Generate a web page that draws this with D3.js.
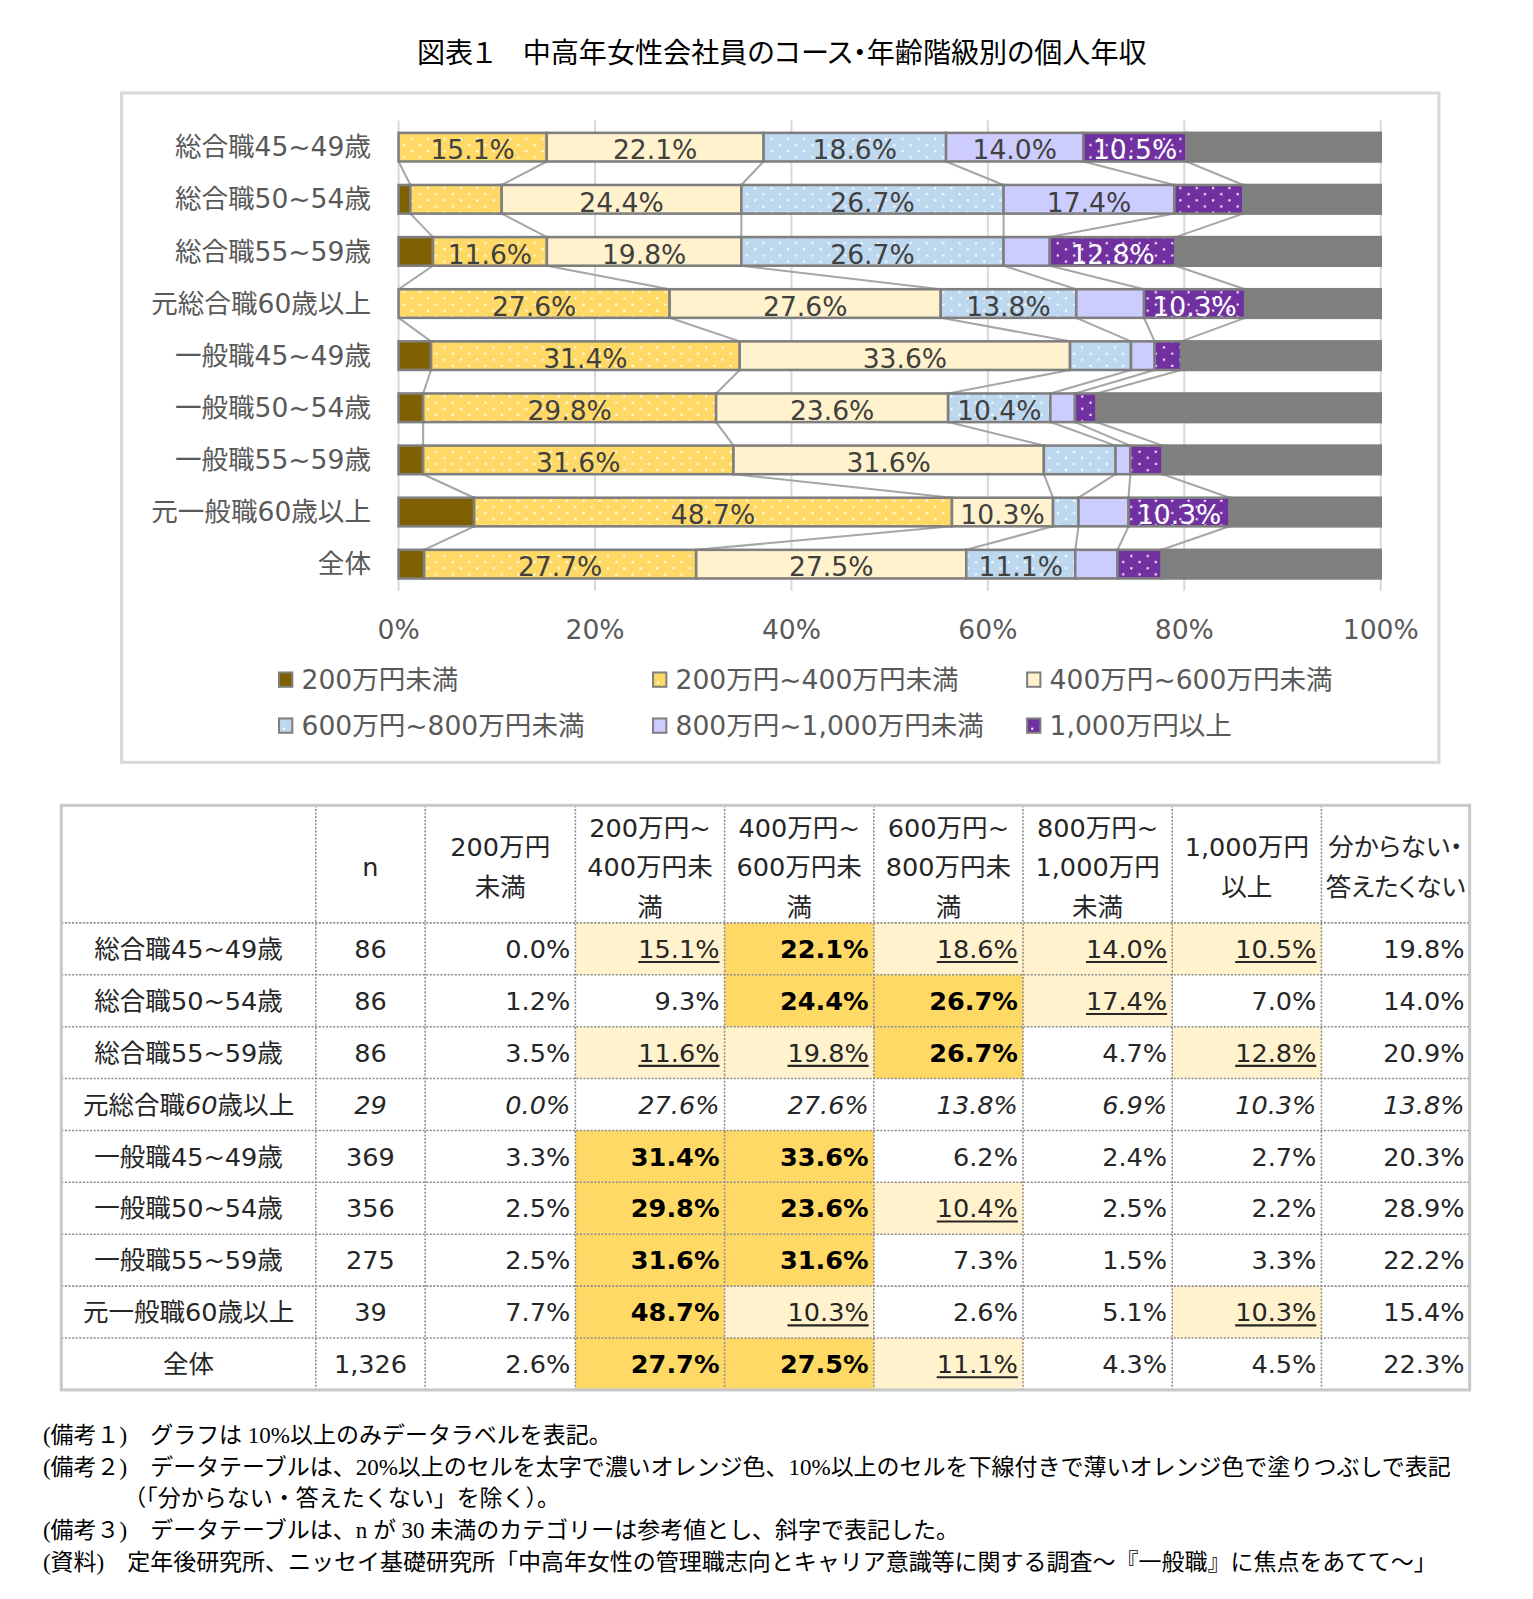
<!DOCTYPE html>
<html>
<head>
<meta charset="utf-8">
<script src="https://cdn.jsdelivr.net/npm/d3@7"></script>
<style>
  body { margin: 0; background: #fff; }
  svg { display: block; }
  .palt { font-feature-settings: "palt"; }
</style>
</head>
<body>
<svg id="chart" width="1533" height="1599"></svg>
<script>
// ---- data ----
const rows = ['総合職45~49歳', '総合職50~54歳', '総合職55~59歳', '元総合職60歳以上',
  '一般職45~49歳', '一般職50~54歳', '一般職55~59歳', '元一般職60歳以上', '全体'];
const nValues = [86, 86, 86, 29, 369, 356, 275, 39, 1326];
const under200 = [0.0, 1.2, 3.5, 0.0, 3.3, 2.5, 2.5, 7.7, 2.6];
const r200to400 = [15.1, 9.3, 11.6, 27.6, 31.4, 29.8, 31.6, 48.7, 27.7];
const r400to600 = [22.1, 24.4, 19.8, 27.6, 33.6, 23.6, 31.6, 10.3, 27.5];
const r600to800 = [18.6, 26.7, 26.7, 13.8, 6.2, 10.4, 7.3, 2.6, 11.1];
const r800to1000 = [14.0, 17.4, 4.7, 6.9, 2.4, 2.5, 1.5, 5.1, 4.3];
const over1000 = [10.5, 7.0, 12.8, 10.3, 2.7, 2.2, 3.3, 10.3, 4.5];
const unknown = [19.8, 14.0, 20.9, 13.8, 20.3, 28.9, 22.2, 15.4, 22.3];
const seriesNames = ['200万円未満', '200万円~400万円未満', '400万円~600万円未満',
  '600万円~800万円未満', '800万円~1,000万円未満', '1,000万円以上', '分からない・答えたくない'];
const tableHeads = [[''], ['n'], ['200万円', '未満'], ['200万円~', '400万円未', '満'],
  ['400万円~', '600万円未', '満'], ['600万円~', '800万円未', '満'],
  ['800万円~', '1,000万円', '未満'], ['1,000万円', '以上'], ['分からない・', '答えたくない']];
const xTicks = [0, 0.2, 0.4, 0.6, 0.8, 1];
const notes = [
  '(備考１)　グラフは 10%以上のみデータラベルを表記。',
  '(備考２)　データテーブルは、20%以上のセルを太字で濃いオレンジ色、10%以上のセルを下線付きで薄いオレンジ色で塗りつぶしで表記',
  '　　　　（「分からない・答えたくない」を除く）。',
  '(備考３)　データテーブルは、n が 30 未満のカテゴリーは参考値とし、斜字で表記した。',
  '(資料)　定年後研究所、ニッセイ基礎研究所「中高年女性の管理職志向とキャリア意識等に関する調査～『一般職』に焦点をあてて～」'
];

const allSeries = [under200, r200to400, r400to600, r600to800, r800to1000, over1000, unknown];
const colors = ['#7f6000', '#ffd966', '#fff2cc', '#bdd7ee', '#ccccff', '#7030a0', '#808080'];
const dotted = [false, true, false, true, false, true, false];

const font = "'DejaVu Sans','Noto Sans CJK JP',sans-serif";
const svg = d3.select('#chart');
// layout was measured on a 1500px wide copy of the picture
const root = svg.append('g').attr('transform', `scale(${1533 / 1500})`);

// ---- title ----
root.append('text')
  .attr('class', 'palt')
  .attr('x', 765).attr('y', 62)
  .attr('text-anchor', 'middle')
  .attr('font-family', "'Noto Sans CJK JP',sans-serif")
  .attr('font-size', 27.5)
  .attr('fill', '#000')
  .text('図表１　中高年女性会社員のコース・年齢階級別の個人年収');

// chart frame
root.append('rect')
  .attr('x', 119).attr('y', 91).attr('width', 1289).attr('height', 655)
  .attr('fill', 'none').attr('stroke', '#d9d9d9').attr('stroke-width', 3);

// patterns
const defs = svg.append('defs');
colors.forEach((c, k) => {
  if (!dotted[k]) return;
  const p = defs.append('pattern')
    .attr('id', 'pat' + k)
    .attr('patternUnits', 'userSpaceOnUse')
    .attr('width', 16).attr('height', 12);
  p.append('rect').attr('width', 16).attr('height', 12).attr('fill', c);
  p.append('rect').attr('x', 2).attr('y', 3).attr('width', 2).attr('height', 2).attr('fill', '#fff');
  p.append('rect').attr('x', 10).attr('y', 9).attr('width', 2).attr('height', 2).attr('fill', '#fff');
});
const fillOf = k => dotted[k] ? `url(#pat${k})` : colors[k];

// ---- stacked bars ----
const table = rows.map((r, i) => {
  const o = { row: r };
  allSeries.forEach((s, k) => { o['s' + k] = s[i]; });
  return o;
});
const keys = allSeries.map((s, k) => 's' + k);
const stacked = d3.stack().keys(keys).offset(d3.stackOffsetExpand)(table);

const x = d3.scaleLinear().domain([0, 1]).range([390, 1351]);
const y = d3.scalePoint().domain(rows).range([144, 552]);
const barH = 28;

// grid
root.append('g').selectAll('line')
  .data(xTicks).enter().append('line')
  .attr('x1', d => x(d)).attr('x2', d => x(d))
  .attr('y1', 118).attr('y2', 578)
  .attr('stroke', '#d9d9d9').attr('stroke-width', 2);

// series lines
const seriesLines = [];
for (let k = 0; k < 6; k++) {
  for (let i = 0; i < rows.length - 1; i++) {
    seriesLines.push({
      x1: x(stacked[k][i][1]), y1: y(rows[i]) + barH / 2,
      x2: x(stacked[k][i + 1][1]), y2: y(rows[i + 1]) - barH / 2
    });
  }
}
root.append('g').selectAll('line')
  .data(seriesLines).enter().append('line')
  .attr('x1', d => d.x1).attr('y1', d => d.y1)
  .attr('x2', d => d.x2).attr('y2', d => d.y2)
  .attr('stroke', '#a6a6a6').attr('stroke-width', 2);

const layers = root.append('g').selectAll('g')
  .data(stacked).enter().append('g')
  .attr('fill', (d, k) => fillOf(k));

layers.selectAll('rect')
  .data(d => d).enter().append('rect')
  .attr('x', d => x(d[0]))
  .attr('y', d => y(d.data.row) - barH / 2)
  .attr('width', d => x(d[1]) - x(d[0]))
  .attr('height', barH)
  .attr('stroke', '#7f7f7f').attr('stroke-width', 2.5);

// data labels (10% and over, not for the unknown series)
stacked.forEach((layer, k) => {
  if (k === 6) return;
  root.append('g').selectAll('text')
    .data(layer.filter(d => d.data['s' + k] >= 10)).enter().append('text')
    .attr('x', d => (x(d[0]) + x(d[1])) / 2)
    .attr('y', d => y(d.data.row) + 12)
    .attr('text-anchor', 'middle')
    .attr('font-family', font).attr('font-size', 26)
    .attr('fill', k === 5 ? '#fff' : '#404040')
    .text(d => d.data['s' + k].toFixed(1) + '%');
});

// category labels
root.append('g').selectAll('text')
  .data(rows).enter().append('text')
  .attr('x', 363).attr('y', d => y(d) + 9)
  .attr('text-anchor', 'end')
  .attr('font-family', font).attr('font-size', 26)
  .attr('fill', '#595959')
  .text(d => d);

// x axis labels
root.append('g').selectAll('text')
  .data(xTicks).enter().append('text')
  .attr('x', d => x(d)).attr('y', 625)
  .attr('text-anchor', 'middle')
  .attr('font-family', font).attr('font-size', 26)
  .attr('fill', '#595959')
  .text(d3.format('.0%'));

// legend
const legX = [272, 638, 1004];
const legY = [665, 710];
const leg = root.append('g').selectAll('g')
  .data(seriesNames.slice(0, 6)).enter().append('g')
  .attr('transform', (d, i) => `translate(${legX[i % 3]},${legY[Math.floor(i / 3)]})`);
leg.append('rect')
  .attr('x', 1).attr('y', -7).attr('width', 13).attr('height', 14)
  .attr('fill', (d, i) => colors[i])
  .attr('stroke', '#7f7f7f').attr('stroke-width', 2);
leg.filter((d, i) => dotted[i]).append('rect')
  .attr('x', 5).attr('y', 2).attr('width', 2).attr('height', 2).attr('fill', '#fff');
leg.append('text')
  .attr('x', 23).attr('y', 9)
  .attr('font-family', font).attr('font-size', 26)
  .attr('fill', '#595959')
  .text(d => d);

// ---- data table ----
const colEdges = [60, 309, 416, 563, 709, 855, 1001, 1147, 1293, 1438];
const headTop = 788, headBottom = 903, tableBottom = 1360;
const ty = d3.scaleBand().domain(rows).range([headBottom, tableBottom]);
const tFont = 25;
const tg = root.append('g');

const cells = [];
rows.forEach((r, i) => {
  const ref = nValues[i] < 30; // reference values: italic, no highlight
  allSeries.forEach((s, k) => {
    const v = s[i];
    let bg = null, bold = false, under = false;
    if (k < 6 && !ref) {
      if (v >= 20) { bg = '#ffd966'; bold = true; }
      else if (v >= 10) { bg = '#fff2cc'; under = true; }
    }
    cells.push({ row: r, i, col: k + 2, v, bg, bold, under, italic: ref });
  });
});

tg.selectAll('rect.bg')
  .data(cells.filter(d => d.bg)).enter().append('rect')
  .attr('class', 'bg')
  .attr('x', d => colEdges[d.col]).attr('y', d => ty(d.row))
  .attr('width', d => colEdges[d.col + 1] - colEdges[d.col])
  .attr('height', ty.bandwidth())
  .attr('fill', d => d.bg);

// grid lines of the table
tg.selectAll('line.h')
  .data(rows.map(r => ty(r))).enter().append('line')
  .attr('x1', colEdges[0]).attr('x2', colEdges[9])
  .attr('y1', d => d).attr('y2', d => d)
  .attr('stroke', '#8c8c8c').attr('stroke-width', 1.5).attr('stroke-dasharray', '2,1.5');
tg.selectAll('line.v')
  .data(colEdges.slice(1, 9)).enter().append('line')
  .attr('x1', d => d).attr('x2', d => d)
  .attr('y1', headTop).attr('y2', tableBottom)
  .attr('stroke', '#8c8c8c').attr('stroke-width', 1.5).attr('stroke-dasharray', '2,1.5');
tg.append('rect')
  .attr('x', colEdges[0]).attr('y', headTop)
  .attr('width', colEdges[9] - colEdges[0]).attr('height', tableBottom - headTop)
  .attr('fill', 'none').attr('stroke', '#c8c8c8').attr('stroke-width', 3);

// header text
tableHeads.forEach((lines, c) => {
  const cx = (colEdges[c] + colEdges[c + 1]) / 2;
  const mid = (headTop + headBottom) / 2 + 3;
  lines.forEach((t, j) => {
    tg.append('text')
      .attr('class', 'palt')
      .attr('x', cx)
      .attr('y', mid + (j - (lines.length - 1) / 2) * 39 + 9)
      .attr('text-anchor', 'middle')
      .attr('font-family', font).attr('font-size', tFont)
      .attr('fill', '#262626')
      .text(t);
  });
});

// row labels and n (only the latin digits lean in italic rows)
rows.forEach((r, i) => {
  const cy = ty(r) + ty.bandwidth() / 2 + 9;
  const it = nValues[i] < 30;
  const lab = tg.append('text')
    .attr('x', (colEdges[0] + colEdges[1]) / 2).attr('y', cy)
    .attr('text-anchor', 'middle')
    .attr('font-family', font).attr('font-size', tFont)
    .attr('fill', '#262626');
  r.split(/(\d+)/).filter(s => s.length).forEach(part => {
    lab.append('tspan')
      .attr('font-style', it && /\d/.test(part) ? 'italic' : 'normal')
      .text(part);
  });
  tg.append('text')
    .attr('x', (colEdges[1] + colEdges[2]) / 2).attr('y', cy)
    .attr('text-anchor', 'middle')
    .attr('font-family', font).attr('font-size', tFont)
    .attr('font-style', it ? 'italic' : 'normal')
    .attr('fill', '#262626').text(d3.format(',')(nValues[i]));
});

// value cells
tg.selectAll('text.val')
  .data(cells).enter().append('text')
  .attr('class', 'val')
  .attr('x', d => colEdges[d.col + 1] - 5)
  .attr('y', d => ty(d.row) + ty.bandwidth() / 2 + 9)
  .attr('text-anchor', 'end')
  .attr('font-family', font).attr('font-size', tFont)
  .attr('font-weight', d => d.bold ? 'bold' : 'normal')
  .attr('font-style', d => d.italic ? 'italic' : 'normal')
  .attr('fill', d => d.bold ? '#000' : '#262626')
  .text(d => d.v.toFixed(1) + '%')
  .each(function (d) {
    if (!d.under) return;
    const w = this.getComputedTextLength();
    const x2 = colEdges[d.col + 1] - 5;
    tg.append('line')
      .attr('x1', x2 - w).attr('x2', x2)
      .attr('y1', ty(d.row) + ty.bandwidth() / 2 + 13)
      .attr('y2', ty(d.row) + ty.bandwidth() / 2 + 13)
      .attr('stroke', '#262626').attr('stroke-width', 2);
  });

// ---- notes ----
const noteY = [1412, 1443, 1474, 1505, 1536];
root.append('g').selectAll('text')
  .data(notes).enter().append('text')
  .attr('x', 42).attr('y', (d, i) => noteY[i])
  .attr('font-family', "'Liberation Serif','Noto Sans CJK JP',serif")
  .attr('font-size', 22.5)
  .attr('fill', '#000')
  .text(d => d);
</script>
</body>
</html>
